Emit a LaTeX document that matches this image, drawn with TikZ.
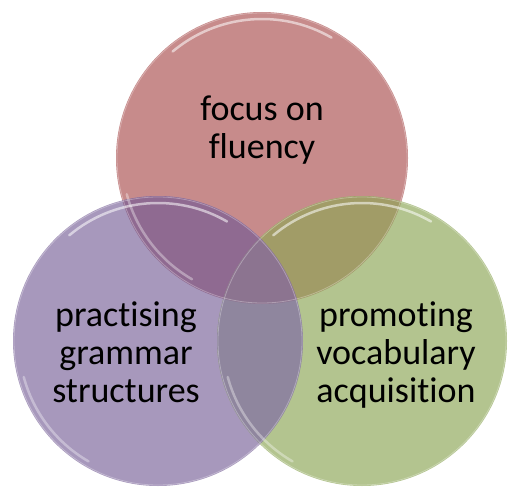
\documentclass[tikz,border=0pt]{standalone}
\usepackage{fontspec}
\setmainfont{Carlito}[RawFeature={-liga;-clig;-calt;-dlig}]
\definecolor{cR}{HTML}{C78B8B}
\definecolor{cP}{HTML}{A798BC}
\definecolor{cG}{HTML}{B3C48F}
\definecolor{cRP}{HTML}{8F6A91}
\definecolor{cRG}{HTML}{A19C67}
\definecolor{cPG}{HTML}{8F869E}
\definecolor{cRPG}{HTML}{8C7490}
\begin{document}
\begin{tikzpicture}[x=1pt,y=1pt,
  lbl/.style={align=center,inner sep=0pt,text=black,font=\fontsize{36}{38}\selectfont},
  rim/.style={white,line width=2.5pt,opacity=0.55,line cap=round},
  edge/.style={draw=white,line width=0.8pt,draw opacity=0.3}]
\useasboundingbox (0,0) rectangle (508,488);
\coordinate (cr) at (262,330);
\coordinate (cp) at (158,147);
\coordinate (cg) at (362,147);
\def\rr{146}
\def\rp{145}
\def\rg{145}
% base circles
\fill[cR] (cr) circle (\rr);
\fill[cP] (cp) circle (\rp);
\fill[cG] (cg) circle (\rg);
% overlaps
\begin{scope}\clip (cr) circle (\rr); \fill[cRP] (cp) circle (\rp); \end{scope}
\begin{scope}\clip (cr) circle (\rr); \fill[cRG] (cg) circle (\rg); \end{scope}
\begin{scope}\clip (cp) circle (\rp); \fill[cPG] (cg) circle (\rg); \end{scope}
\begin{scope}\clip (cr) circle (\rr); \clip (cp) circle (\rp); \fill[cRPG] (cg) circle (\rg); \end{scope}
% glossy rims
\foreach \c/\r in {cr/\rr, cp/\rp, cg/\rg}{
  \draw[edge] (\c) circle (\r-1);
  \draw[rim] ([shift={(60:\r-7)}]\c) arc (60:130:\r-7);
  \draw[rim,opacity=0.35] ([shift={(195:\r-6)}]\c) arc (195:240:\r-6);
}
% labels
\node[lbl] (tr) at (262,358) {focus on\\fluency};
\node[lbl] (tp) at (126,136) {practising\\grammar\\structures};
\node[lbl] (tg) at (396,133) {promoting\\vocabulary\\acquisition};
\end{tikzpicture}
\end{document}
